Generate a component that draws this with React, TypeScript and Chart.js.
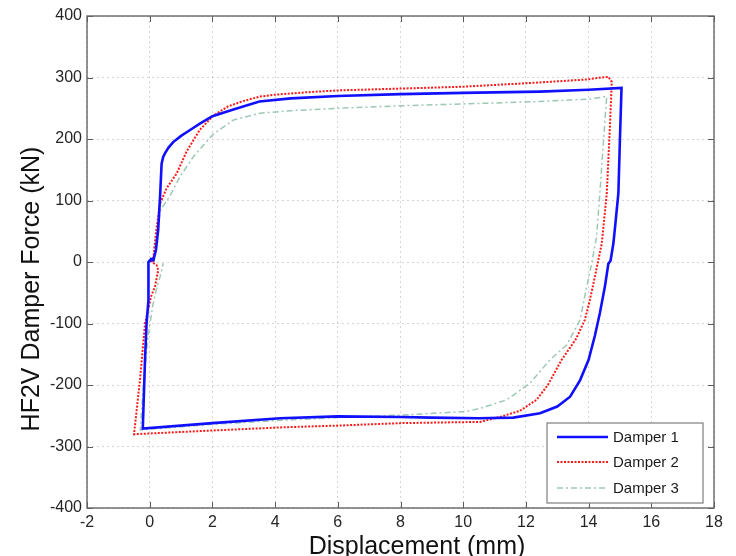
import React, { useEffect, useRef } from "react";
import { Chart, registerables } from "chart.js";

Chart.register(...registerables);

const seriesLabels = ["Damper 1", "Damper 2", "Damper 3"];
const xAxisTitle = "Displacement (mm)";
const yAxisTitle = "HF2V Damper Force (kN)";
const xMin = -2, xMax = 18, xStep = 2;
const yMin = -400, yMax = 400, yStep = 100;

// Damper 1 (blue, solid)
const d1X = [0.0, 0.05, 0.12, 0.2, 0.27, 0.33, 0.38, 0.43, 0.49, 0.6, 0.75, 1.0, 1.3, 1.6, 2.0, 2.67, 3.5, 4.5, 6, 8, 10, 12.45, 14, 15.05, 15.0, 14.95, 14.85, 14.79, 14.7, 14.63, 14.52, 14.36, 14.2, 14.0, 13.73, 13.41, 13.0, 12.45, 11.6, 10.5, 9, 8, 6, 4.16, 2, -0.22, -0.15, -0.1, -0.04, -0.04, 0.05];
const d1Y = [0, 5, 3, 20, 52, 106, 160, 171, 177, 186, 195, 205, 215, 225, 237, 248, 261, 266, 270, 273, 275, 277, 280, 283, 200, 112, 60, 30, 2, -3, -40, -83, -120, -159, -192, -219, -235, -246, -253, -254, -253, -252, -251, -254, -262, -271, -159, -100, -62, 0, 5];

// Damper 2 (red, dotted)
const d2X = [0.06, 0.12, 0.21, 0.33, 0.54, 0.86, 1.18, 1.6, 2.03, 2.5, 3.0, 3.52, 4, 5, 6, 8, 10, 12.45, 14, 14.4, 14.63, 14.74, 14.68, 14.58, 14.42, 14.31, 14.2, 14.04, 13.88, 13.6, 13.14, 12.7, 12.34, 11.81, 11.17, 10.54, 8, 6, 4.16, 2, -0.5, -0.31, -0.15, 0.05, 0.17, 0.27, 0.22, 0.06];
const d2Y = [0, 9, 52, 95, 120, 144, 180, 215, 238, 253, 262, 269, 272, 276, 279, 282, 285, 292, 297, 300, 301, 293, 220, 112, 30, 3, -24, -62, -94, -125, -159, -200, -224, -242, -252, -260, -262, -266, -269, -274, -280, -192, -100, -55, -40, -13, -5, 0];

// Damper 3 (green, dash-dot)
const d3X = [0.12, 0.2, 0.35, 0.65, 0.97, 1.39, 2.03, 2.67, 3.52, 4.5, 6, 8, 10, 12.45, 14.0, 14.58, 14.56, 14.47, 14.36, 14.25, 14.1, 13.9, 13.73, 13.3, 12.77, 12.13, 11.39, 10.54, 10.1, 8, 6, 4, 2, -0.3, -0.2, -0.05, 0.1, 0.21, 0.33, 0.43];
const d3Y = [0, 40, 85, 108, 139, 171, 208, 231, 242, 246, 250, 254, 257, 261, 265, 269, 258, 193, 112, 40, -2, -50, -94, -135, -159, -197, -224, -238, -243, -249, -253, -258, -264, -273, -200, -120, -70, -45, -24, -2];

const seriesX = [d1X, d2X, d3X];
const seriesY = [d1Y, d2Y, d3Y];
const colors = ["#1010ff", "#ff1a1a", "rgba(140,190,165,0.85)"];
const widths = [2.6, 2, 1.5];
const dashes: number[][] = [[], [2, 1.5], [6, 3, 2, 3]];

const FONT = "'Liberation Sans', Arial, sans-serif";

const framePlugin = {
  id: "frame",
  afterDraw(chart: any) {
    const { ctx, chartArea, scales } = chart;
    const { left, right, top, bottom } = chartArea;
    const xs = scales.x, ys = scales.y;
    ctx.save();
    ctx.setLineDash([]);
    ctx.strokeStyle = "#5a5a5a";
    ctx.lineWidth = 1;
    const tl = 6;
    xs.ticks.forEach((t: any) => {
      const px = Math.round(xs.getPixelForValue(t.value)) + 0.5;
      ctx.beginPath();
      ctx.moveTo(px, bottom); ctx.lineTo(px, bottom - tl);
      ctx.moveTo(px, top); ctx.lineTo(px, top + tl);
      ctx.stroke();
    });
    ys.ticks.forEach((t: any) => {
      const py = Math.round(ys.getPixelForValue(t.value)) + 0.5;
      ctx.beginPath();
      ctx.moveTo(left, py); ctx.lineTo(left + tl, py);
      ctx.moveTo(right, py); ctx.lineTo(right - tl, py);
      ctx.stroke();
    });
    ctx.lineWidth = 1.4;
    ctx.strokeStyle = "#666";
    ctx.strokeRect(left, top, right - left, bottom - top);

    // axis titles
    ctx.fillStyle = "#111";
    ctx.font = `25px ${FONT}`;
    ctx.textAlign = "center";
    ctx.textBaseline = "alphabetic";
    ctx.fillText(xAxisTitle, 417, 554);
    ctx.save();
    ctx.translate(32, 289);
    ctx.rotate(-Math.PI / 2);
    ctx.textBaseline = "middle";
    ctx.fillText(yAxisTitle, 0, 0);
    ctx.restore();

    // legend
    const lx = 547, ly = 423, lw = 156, lh = 80;
    ctx.fillStyle = "#fff";
    ctx.fillRect(lx, ly, lw, lh);
    ctx.strokeStyle = "#888";
    ctx.lineWidth = 1.3;
    ctx.strokeRect(lx, ly, lw, lh);
    const rows = [437, 462, 488];
    ctx.font = `15px ${FONT}`;
    ctx.textAlign = "left";
    ctx.textBaseline = "middle";
    seriesLabels.forEach((lab, i) => {
      ctx.save();
      ctx.strokeStyle = colors[i];
      ctx.lineWidth = widths[i];
      ctx.setLineDash(dashes[i]);
      ctx.beginPath();
      ctx.moveTo(557, rows[i]);
      ctx.lineTo(608, rows[i]);
      ctx.stroke();
      ctx.restore();
      ctx.fillStyle = "#1a1a1a";
      ctx.fillText(lab, 613, rows[i] + 1);
    });
    ctx.restore();
  },
};

export default function App() {
  const ref = useRef<HTMLCanvasElement | null>(null);
  useEffect(() => {
    if (!ref.current) return;
    const datasets = seriesLabels.map((lab, i) => ({
      label: lab,
      data: seriesX[i].map((x, k) => ({ x, y: seriesY[i][k] })),
      showLine: true,
      borderColor: colors[i],
      backgroundColor: colors[i],
      borderWidth: widths[i],
      borderDash: dashes[i],
      pointRadius: 0,
      tension: 0,
      fill: false,
    }));
    const chart = new Chart(ref.current, {
      type: "scatter",
      data: { datasets },
      options: {
        animation: false,
        responsive: false,
        devicePixelRatio: 1,
        layout: { padding: { left: 0, right: 22, top: 16, bottom: 0 } },
        plugins: { legend: { display: false }, tooltip: { enabled: false } },
        scales: {
          x: {
            type: "linear",
            min: xMin,
            max: xMax,
            afterFit: (s: any) => { s.height = 48; },
            ticks: { stepSize: xStep, padding: 5, color: "#262626", font: { family: FONT, size: 16 } },
            grid: { drawTicks: false, color: "rgba(0,0,0,0.16)", lineWidth: 1 },
            border: { display: false, dash: [2, 3] },
            title: { display: false },
          },
          y: {
            type: "linear",
            min: yMin,
            max: yMax,
            afterFit: (s: any) => { s.width = 87; },
            ticks: { stepSize: yStep, padding: 5, color: "#262626", font: { family: FONT, size: 16 } },
            grid: { drawTicks: false, color: "rgba(0,0,0,0.16)", lineWidth: 1 },
            border: { display: false, dash: [2, 3] },
            title: { display: false },
          },
        },
      },
      plugins: [framePlugin],
    });
    return () => chart.destroy();
  }, []);
  return (
    <div style={{ position: "fixed", left: 0, top: 0, width: 736, height: 556, background: "#fff" }}>
      <canvas ref={ref} width={736} height={556} style={{ width: 736, height: 556 }} />
    </div>
  );
}
